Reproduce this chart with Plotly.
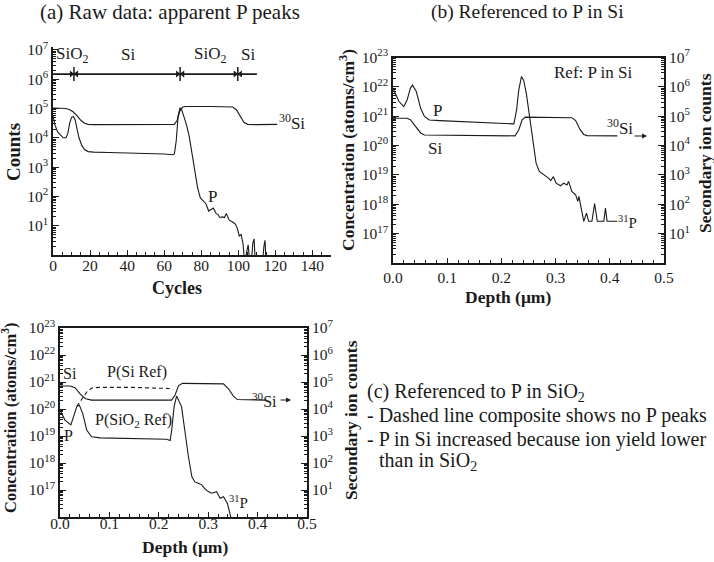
import plotly.graph_objects as go

W, H = 714, 562
FONT = "Liberation Serif, Times New Roman, DejaVu Serif, serif"
INK = "#1a1a1a"

# ---------------- Panel (a): raw counts vs sputter cycles ----------------
a_si_cycles = [0, 4, 7, 9, 11, 13, 15, 17, 19, 22, 40, 60, 65.5, 67, 68.5, 70, 72, 85, 95, 97, 99, 101, 103, 105, 110, 121]
a_si_log = [5.02, 5.02, 5.0, 4.96, 4.88, 4.75, 4.6, 4.5, 4.46, 4.45, 4.45, 4.45, 4.46, 4.6, 4.92, 5.05, 5.07, 5.07, 5.07, 5.05, 4.95, 4.72, 4.53, 4.46, 4.45, 4.46]

a_p_cycles = [0, 1, 2.5, 4, 5.5, 7, 8, 9, 10, 11, 12, 13, 14, 15.5, 17, 19, 22, 30, 45, 60, 64.5, 65.5,
              66.5, 67.5, 68.5, 69.5, 70.5, 72, 73.5, 75, 76.5, 78, 79.5, 81, 82.5, 84, 85.5, 86.5, 88,
              89, 90, 91.5, 92.5, 93.5, 95, 96.5, 97.5, 98.5, 99.5, 100.5, 101.5, 102.5, 103.5, 104.5,
              105.3, 106.2, 107, 107.8, 108.5, 109.2, 110, 113, 113.8, 114.4, 115, 117]
a_p_log = [4.76, 4.45, 4.2, 4.08, 4.0, 4.0, 4.15, 4.5, 4.7, 4.73, 4.6, 4.3, 4.0, 3.75, 3.6, 3.53, 3.51,
           3.5, 3.48, 3.45, 3.42, 3.45, 3.9, 4.75, 5.02, 4.95, 4.75, 4.45, 4.05, 3.5, 2.8, 2.3, 1.95,
           1.85, 1.75, 1.5, 1.55, 1.6, 1.42, 1.38, 1.28, 1.3, 1.28, 1.42, 1.2, 1.15, 1.1, 1.05, 0.9,
           0.65, 0.7, 0.4, -0.3, 0.1, 0.35, -0.3, -0.3, 0.4, 0.55, -0.3, -0.3, -0.3, 0.3, 0.5, -0.3, -0.3]

a_layer_bar_x = [0, 110]
a_layer_bar_y = 1.5e6
a_boundaries = [11.3, 68.6, 99.7]
a_layer_names = ["SiO<sub>2</sub>", "Si", "SiO<sub>2</sub>", "Si"]
a_layer_x = [10, 40.6, 84.5, 105.2]

# ---------------- Panel (b): referenced to P in Si ----------------
b_p_depth = [0.0, 0.011, 0.020, 0.026, 0.032, 0.036, 0.043, 0.051, 0.058, 0.067, 0.086, 0.148, 0.210,
             0.223, 0.228, 0.232, 0.237, 0.241, 0.246, 0.252, 0.258, 0.264, 0.270, 0.281, 0.287, 0.291,
             0.296, 0.301, 0.309, 0.315, 0.321, 0.324, 0.330, 0.337, 0.341, 0.343, 0.347, 0.352, 0.357,
             0.361, 0.367, 0.372, 0.377, 0.389, 0.392, 0.395, 0.414]
b_p_log = [21.95, 21.50, 21.33, 21.55, 21.95, 22.06, 21.84, 21.27, 20.99, 20.87, 20.85, 20.81, 20.77,
           20.74, 21.21, 21.89, 22.35, 22.23, 21.78, 21.04, 20.19, 19.40, 19.12, 18.98, 18.89, 18.81,
           18.94, 18.72, 18.63, 18.72, 18.66, 18.78, 18.44, 18.32, 18.10, 18.27, 17.93, 17.42, 17.70,
           17.42, 17.42, 18.02, 17.42, 17.42, 17.87, 17.42, 17.42]

b_si_depth = [0, 0.026, 0.032, 0.042, 0.051, 0.058, 0.1, 0.2, 0.225, 0.232, 0.238, 0.244, 0.3, 0.330,
              0.337, 0.345, 0.352, 0.358, 0.414]
b_si_log = [4.93, 4.93, 4.88, 4.65, 4.43, 4.36, 4.35, 4.33, 4.33, 4.53, 4.87, 4.97, 4.97, 4.95, 4.85,
            4.55, 4.38, 4.34, 4.33]

# ---------------- Panel (c): referenced to P in SiO2 ----------------
c_si_depth = [0, 0.021, 0.031, 0.041, 0.052, 0.064, 0.15, 0.226, 0.233, 0.240, 0.248, 0.331, 0.341,
              0.351, 0.359, 0.415]
c_si_log = [4.85, 4.85, 4.78, 4.55, 4.38, 4.33, 4.33, 4.33, 4.52, 4.87, 4.95, 4.93, 4.75, 4.48, 4.35, 4.33]

c_p_depth = [0.0, 0.010, 0.022, 0.028, 0.034, 0.039, 0.046, 0.054, 0.064, 0.081, 0.148, 0.216, 0.223,
             0.226, 0.231, 0.236, 0.246, 0.253, 0.260, 0.267, 0.273, 0.280, 0.287, 0.293, 0.300, 0.307,
             0.317, 0.324, 0.331, 0.339, 0.343, 0.347]
c_p_log = [19.96, 19.59, 19.41, 19.72, 20.09, 20.15, 19.84, 19.22, 18.97, 18.93, 18.91, 18.88, 18.83,
           19.2, 20.09, 20.48, 20.09, 19.10, 18.23, 17.49, 17.30, 17.25, 17.19, 17.05, 16.94, 16.88,
           16.94, 16.69, 16.75, 16.50, 16.20, 15.9]

c_pref_depth = [0.034, 0.045, 0.055, 0.065, 0.08, 0.15, 0.22, 0.229]
c_pref_log = [20.1, 20.4, 20.65, 20.78, 20.80, 20.80, 20.76, 20.72]

count_exps = [1, 2, 3, 4, 5, 6, 7]
conc_exps = [17, 18, 19, 20, 21, 22, 23]


def pw(vals):
    return [10.0 ** v for v in vals]


def px(x, y):
    return x / W, 1 - y / H


fig = go.Figure()
line = dict(color=INK, width=1.1)

# (a)
fig.add_trace(go.Scatter(x=a_si_cycles, y=pw(a_si_log), mode="lines", line=line, xaxis="x", yaxis="y"))
fig.add_trace(go.Scatter(x=a_p_cycles, y=pw(a_p_log), mode="lines", line=line, xaxis="x", yaxis="y"))
fig.add_trace(go.Scatter(x=a_layer_bar_x, y=[a_layer_bar_y] * 2, mode="lines",
                         line=dict(color=INK, width=1.8), xaxis="x", yaxis="y"))
fig.add_trace(go.Scatter(x=a_boundaries, y=[a_layer_bar_y] * len(a_boundaries), mode="markers",
                         marker=dict(symbol="line-ns-open", size=10, color=INK,
                                     line=dict(color=INK, width=1.5)),
                         xaxis="x", yaxis="y"))
fig.add_trace(go.Scatter(x=[b - 1.4 for b in a_boundaries], y=[a_layer_bar_y] * len(a_boundaries),
                         mode="markers", marker=dict(symbol="triangle-right", size=6, color=INK),
                         xaxis="x", yaxis="y"))
fig.add_trace(go.Scatter(x=[b + 1.4 for b in a_boundaries], y=[a_layer_bar_y] * len(a_boundaries),
                         mode="markers", marker=dict(symbol="triangle-left", size=6, color=INK),
                         xaxis="x", yaxis="y"))

# (b)
fig.add_trace(go.Scatter(x=b_p_depth, y=pw(b_p_log), mode="lines", line=line, xaxis="x2", yaxis="y2"))
fig.add_trace(go.Scatter(x=b_si_depth, y=pw(b_si_log), mode="lines", line=line, xaxis="x2", yaxis="y3"))

# (c)
fig.add_trace(go.Scatter(x=c_p_depth, y=pw(c_p_log), mode="lines", line=line, xaxis="x3", yaxis="y4"))
fig.add_trace(go.Scatter(x=c_pref_depth, y=pw(c_pref_log), mode="lines",
                         line=dict(color=INK, width=1.1, dash="4px,3px"), xaxis="x3", yaxis="y4"))
fig.add_trace(go.Scatter(x=c_si_depth, y=pw(c_si_log), mode="lines", line=line, xaxis="x3", yaxis="y5"))

tickfont = dict(family=FONT, size=15.5, color=INK)


def minor_x(d):
    return dict(ticks="inside", ticklen=3, tickcolor=INK, dtick=d)


def log_minor(lo, hi):
    return dict(ticks="inside", ticklen=3, tickcolor=INK, tickmode="array",
                tickvals=[m * 10.0 ** n for n in range(lo, hi) for m in range(2, 10)])


def logaxis(exps, rng, domain, anchor, lo, hi, **kw):
    d = dict(type="log", range=rng, tickmode="array", tickvals=[10.0 ** e for e in exps],
             ticktext=["10<sup>%d</sup>" % e for e in exps], ticks="inside", ticklen=6,
             tickcolor=INK, showline=True, linecolor=INK, linewidth=1.6, showgrid=False,
             zeroline=False, tickfont=tickfont, anchor=anchor, minor=log_minor(lo, hi),
             automargin=False)
    if domain is not None:
        d["domain"] = domain
    d.update(kw)
    return d


def linaxis(rng, domain, anchor, dtick, mdtick, fmt=None, mirror=False, standoff=-4):
    d = dict(range=rng, domain=domain, anchor=anchor, dtick=dtick, tick0=0, ticks="inside",
             ticklen=5, tickcolor=INK, showline=True, linecolor=INK, linewidth=1.6, showgrid=False,
             zeroline=False, tickfont=tickfont, minor=minor_x(mdtick), mirror=mirror,
             ticklabelstandoff=standoff, automargin=False)
    if fmt:
        d["tickformat"] = fmt
    return d


fig.update_layout(
    template="none",
    width=W, height=H, margin=dict(l=0, r=0, t=0, b=0, pad=0, autoexpand=False),
    paper_bgcolor="white", plot_bgcolor="white", showlegend=False,
    font=dict(family=FONT, color=INK),
    xaxis=linaxis([0, 150], [53 / W, 331 / W], "y", 20, 5, standoff=-4),
    yaxis=logaxis(count_exps, [0, 7.1], [1 - 255 / H, 1 - 47 / H], "x", 0, 8),
    xaxis2=linaxis([0, 0.5], [393 / W, 664 / W], "y2", 0.1, 0.02, ".1f", mirror=True, standoff=0),
    yaxis2=logaxis(conc_exps, [16, 23], [1 - 263 / H, 1 - 57.5 / H], "x2", 16, 23),
    yaxis3=logaxis(count_exps, [0, 7], None, "x2", 0, 7, overlaying="y2", side="right"),
    xaxis3=linaxis([0, 0.5], [60 / W, 307 / W], "y4", 0.1, 0.02, ".1f", mirror=True, standoff=-8),
    yaxis4=logaxis(conc_exps, [16, 23], [1 - 517 / H, 1 - 328 / H], "x3", 16, 23),
    yaxis5=logaxis(count_exps, [0, 7], None, "x3", 0, 7, overlaying="y4", side="right"),
)

ann = []


def text(t, x, y, size=16, bold=False, angle=0, xanchor="center"):
    X, Y = px(x, y)
    ann.append(dict(text=("<b>%s</b>" % t) if bold else t, x=X, y=Y, xref="paper", yref="paper",
                    showarrow=False, xanchor=xanchor, yanchor="middle", textangle=angle,
                    font=dict(family=FONT, size=size, color=INK)))


def arrow(x0, x1, y):
    X1, Y = px(x1, y)
    ann.append(dict(text="", x=X1, y=Y, xref="paper", yref="paper", ax=-(x1 - x0), ay=0,
                    showarrow=True, arrowhead=2, arrowsize=0.9, arrowwidth=1.1, arrowcolor=INK))


# titles and captions
text("(a) Raw data: apparent P peaks", 170, 12, size=21)
text("(b) Referenced to P in Si", 527, 12, size=19.5)
text("(c) Referenced to P in SiO<sub>2</sub>", 365, 392, size=20, xanchor="left")
text("- Dashed line composite shows no P peaks", 365, 416, size=20, xanchor="left")
text("- P in Si increased because ion yield lower", 365, 439, size=20, xanchor="left")
text("than in SiO<sub>2</sub>", 377, 461, size=20, xanchor="left")

# axis titles
text("Counts", 13, 152, size=19, bold=True, angle=-90)
text("Cycles", 177, 288, size=18, bold=True)
text("Concentration (atoms/cm<sup>3</sup>)", 347, 150, size=17.5, bold=True, angle=-90)
text("Secondary ion counts", 705, 153, size=17.5, bold=True, angle=-90)
text("Depth (μm)", 508, 297, size=17.5, bold=True)
text("Concentration (atoms/cm<sup>3</sup>)", 9, 418, size=16.5, bold=True, angle=-90)
text("Secondary ion counts", 351, 420, size=17.5, bold=True, angle=-90)
text("Depth (μm)", 185, 547, size=17.5, bold=True)

# panel (a) labels (data coordinates)
for name, lx in zip(a_layer_names, a_layer_x):
    ann.append(dict(text=name, x=lx, y=6.83, xref="x", yref="y", showarrow=False,
                    font=dict(family=FONT, size=17, color=INK)))
text("<sup>30</sup>Si", 292, 122, size=17)
text("P", 212, 196, size=17)

# panel (b) labels
text("P", 437, 110, size=17)
text("Si", 435, 148, size=17)
text("<sup>30</sup>Si", 620, 127, size=17)
arrow(633, 647, 136)
text("<sup>31</sup>P", 627, 222, size=15)
text("Ref: P in Si", 593, 72, size=17)

# panel (c) labels
text("Si", 70, 373, size=16)
text("P", 68, 435, size=16)
text("P(Si Ref)", 137, 372, size=16)
text("P(SiO<sub>2</sub> Ref)", 133, 420, size=16)
text("<sup>30</sup>Si", 264, 400, size=16)
arrow(279, 291, 400)
text("<sup>31</sup>P", 238, 502, size=15)

fig.update_layout(annotations=ann)
fig.write_html("out.html")
